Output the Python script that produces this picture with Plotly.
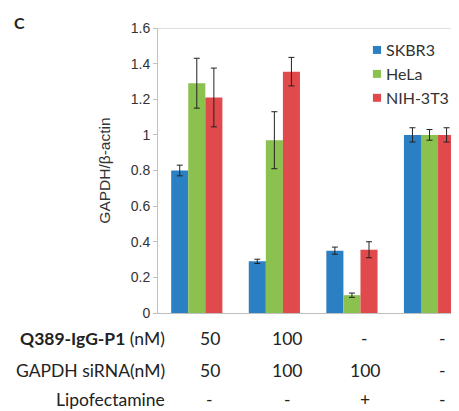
import plotly.graph_objects as go

groups = ["G1", "G2", "G3", "G4"]
series = ["SKBR3", "HeLa", "NIH-3T3"]
colors = ["#2b7fc3", "#8bc14f", "#e04a4c"]
values = {
    "SKBR3": [0.80, 0.29, 0.35, 1.00],
    "HeLa": [1.29, 0.97, 0.10, 1.00],
    "NIH-3T3": [1.21, 1.355, 0.355, 1.00],
}
errors = {
    "SKBR3": [0.03, 0.012, 0.02, 0.04],
    "HeLa": [0.14, 0.16, 0.012, 0.03],
    "NIH-3T3": [0.165, 0.08, 0.045, 0.04],
}
row_labels = ["<b>Q389-IgG-P1</b> (nM)", "GAPDH siRNA(nM)", "Lipofectamine"]
row_values = [
    ["50", "100", "-", "-"],
    ["50", "100", "100", "-"],
    ["-", "-", "+", "-"],
]
yticks = [0, 0.2, 0.4, 0.6, 0.8, 1, 1.2, 1.4, 1.6]
ytick_text = ["0", "0.2", "0.4", "0.6", "0.8", "1", "1.2", "1.4", "1.6"]

fig = go.Figure()
xs = list(range(len(groups)))
for name, col in zip(series, colors):
    fig.add_trace(go.Bar(
        x=xs, y=values[name], name=name, marker_color=col, marker_line_width=0,
        showlegend=False,
        error_y=dict(type="data", array=errors[name], color="#222222", thickness=1, width=3),
    ))

# page body has an 8px margin, so the figure is 8px smaller and shifted
fig.update_layout(
    width=451, height=403,
    margin=dict(l=150, r=0, t=20, b=98, autoexpand=False),
    plot_bgcolor="white", paper_bgcolor="white",
    barmode="group", bargap=0.34, bargroupgap=0,
    showlegend=False,
    font=dict(family="Liberation Sans", size=14, color="#333333"),
)
fig.update_xaxes(range=[-0.5, 3.38], showticklabels=False, ticks="", showgrid=False,
                 showline=True, linecolor="#bfbfbf", linewidth=1, zeroline=False)
fig.update_yaxes(range=[0, 1.6], tickvals=yticks, ticktext=ytick_text, ticks="outside",
                 ticklen=4, tickcolor="#bfbfbf", showgrid=False, showline=True,
                 linecolor="#bfbfbf", linewidth=1, zeroline=False,
                 title=dict(text="GAPDH/β-actin", font=dict(size=15.5), standoff=16),
                 tickfont=dict(size=14))
# top border line at 1.6
fig.add_shape(type="line", xref="paper", yref="y", x0=0, x1=1, y0=1.6, y1=1.6,
              line=dict(color="#bfbfbf", width=1))

# legend drawn as squares + labels
leg_y = [0.923, 0.839, 0.755]
for name, col, ly in zip(series, colors, leg_y):
    fig.add_shape(type="rect", xref="paper", yref="paper",
                  x0=0.714, x1=0.741, y0=ly - 0.014, y1=ly + 0.014,
                  fillcolor=col, line_width=0)
    fig.add_annotation(text=name, xref="paper", yref="paper", x=0.750, y=ly,
                       xanchor="left", yanchor="middle", showarrow=False,
                       font=dict(family="Lato", size=16, color="#333333"))

row_y = [-0.088, -0.2, -0.305]
for lbl, vals, yy in zip(row_labels, row_values, row_y):
    fig.add_annotation(text=lbl, xref="paper", yref="paper", x=0.03, y=yy,
                       xanchor="right", yanchor="middle", showarrow=False,
                       font=dict(family="Lato", size=17.5, color="#222222"))
    for i, v in enumerate(vals):
        fig.add_annotation(text=v, xref="x", yref="paper", x=xs[i], y=yy, xshift=13,
                           xanchor="center", yanchor="middle", showarrow=False,
                           font=dict(family="Lato", size=17.5, color="#222222"))

fig.add_annotation(text="<b>C</b>", xref="paper", yref="paper", x=-0.46, y=1.02,
                   xanchor="center", yanchor="middle", showarrow=False,
                   font=dict(family="Lato", size=16, color="#222222"))

fig.write_html("out.html")
